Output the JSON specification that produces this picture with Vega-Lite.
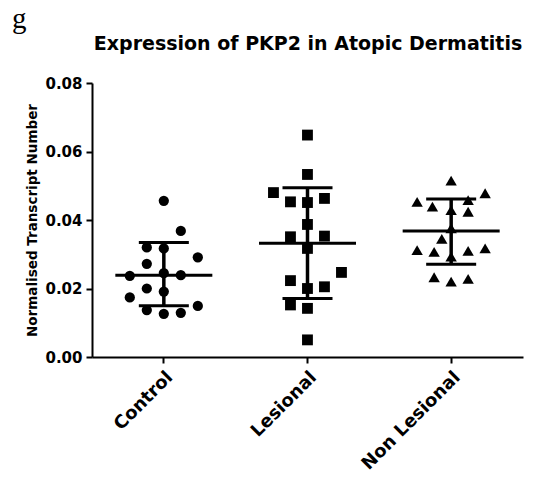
{
  "$schema": "https://vega.github.io/schema/vega-lite/v6.json",
  "width": 431,
  "height": 274,
  "autosize": {"type": "none"},
  "padding": {"left": 92, "top": 83, "right": 17, "bottom": 124},
  "background": "white",
  "title": {"text": "g", "anchor": "start", "frame": "group", "dx": -80, "font": "Liberation Serif", "fontSize": 29, "fontWeight": "normal", "color": "black", "offset": 0},
  "config": {
    "view": {"stroke": null},
    "axis": {"domainColor": "black", "domainWidth": 2, "tickColor": "black", "tickWidth": 2, "labelColor": "black", "titleColor": "black", "grid": false}
  },
  "datasets": {
    "points": [
      {"group": "Control", "col": 0, "value": 0.0456},
      {"group": "Control", "col": 1, "value": 0.0368},
      {"group": "Control", "col": -1, "value": 0.0320},
      {"group": "Control", "col": 0, "value": 0.0317},
      {"group": "Control", "col": 2, "value": 0.0291},
      {"group": "Control", "col": -1, "value": 0.0272},
      {"group": "Control", "col": -2, "value": 0.0237},
      {"group": "Control", "col": 0, "value": 0.0245},
      {"group": "Control", "col": 1, "value": 0.0239},
      {"group": "Control", "col": -1, "value": 0.0200},
      {"group": "Control", "col": 0, "value": 0.0191},
      {"group": "Control", "col": -2, "value": 0.0174},
      {"group": "Control", "col": 2, "value": 0.0149},
      {"group": "Control", "col": -1, "value": 0.0137},
      {"group": "Control", "col": 0, "value": 0.0126},
      {"group": "Control", "col": 1, "value": 0.0129},
      {"group": "Lesional", "col": 0, "value": 0.0648},
      {"group": "Lesional", "col": 0, "value": 0.0533},
      {"group": "Lesional", "col": -2, "value": 0.0480},
      {"group": "Lesional", "col": -1, "value": 0.0453},
      {"group": "Lesional", "col": 0, "value": 0.0451},
      {"group": "Lesional", "col": 1, "value": 0.0463},
      {"group": "Lesional", "col": 0, "value": 0.0387},
      {"group": "Lesional", "col": -1, "value": 0.0351},
      {"group": "Lesional", "col": 1, "value": 0.0353},
      {"group": "Lesional", "col": 0, "value": 0.0317},
      {"group": "Lesional", "col": 2, "value": 0.0247},
      {"group": "Lesional", "col": -1, "value": 0.0223},
      {"group": "Lesional", "col": 0, "value": 0.0200},
      {"group": "Lesional", "col": 1, "value": 0.0205},
      {"group": "Lesional", "col": -1, "value": 0.0152},
      {"group": "Lesional", "col": 0, "value": 0.0142},
      {"group": "Lesional", "col": 0, "value": 0.0050},
      {"group": "Non Lesional", "col": 0, "value": 0.0515},
      {"group": "Non Lesional", "col": -2, "value": 0.0453},
      {"group": "Non Lesional", "col": -1.1, "value": 0.0439},
      {"group": "Non Lesional", "col": 0, "value": 0.0429},
      {"group": "Non Lesional", "col": 1, "value": 0.0458},
      {"group": "Non Lesional", "col": 1, "value": 0.0424},
      {"group": "Non Lesional", "col": 2, "value": 0.0478},
      {"group": "Non Lesional", "col": 0, "value": 0.0376},
      {"group": "Non Lesional", "col": -0.55, "value": 0.0345},
      {"group": "Non Lesional", "col": -2, "value": 0.0312},
      {"group": "Non Lesional", "col": -1, "value": 0.0307},
      {"group": "Non Lesional", "col": 1, "value": 0.0310},
      {"group": "Non Lesional", "col": 2, "value": 0.0317},
      {"group": "Non Lesional", "col": 0, "value": 0.0293},
      {"group": "Non Lesional", "col": -1, "value": 0.0233},
      {"group": "Non Lesional", "col": 0, "value": 0.0220},
      {"group": "Non Lesional", "col": 1, "value": 0.0228}
    ],
    "summary": [
      {"group": "Control", "mean": 0.0239, "lower": 0.0150, "upper": 0.0334},
      {"group": "Lesional", "mean": 0.0332, "lower": 0.0171, "upper": 0.0494},
      {"group": "Non Lesional", "mean": 0.0368, "lower": 0.0271, "upper": 0.0461}
    ]
  },
  "layer": [
    {
      "data": {"name": "points"},
      "mark": {"type": "point", "filled": true, "opacity": 1, "color": "black"},
      "encoding": {
        "x": {
          "field": "group", "type": "nominal",
          "sort": ["Control", "Lesional", "Non Lesional"],
          "scale": {"domain": ["Control", "Lesional", "Non Lesional"], "paddingInner": 0, "paddingOuter": 0},
          "axis": {"orient": "bottom", "title": null, "labelAngle": -45, "labelAlign": "right", "labelBaseline": "top", "labelFont": "DejaVu Sans", "labelFontWeight": "bold", "labelFontSize": 18, "labelPadding": 5, "tickSize": 6}
        },
        "xOffset": {"field": "col", "type": "quantitative", "scale": {"domain": [-2, 2], "range": [37.8, 105.8]}},
        "y": {
          "field": "value", "type": "quantitative",
          "scale": {"domain": [0, 0.08], "nice": false},
          "axis": {"values": [0, 0.02, 0.04, 0.06, 0.08], "format": ".2f", "labelFont": "DejaVu Sans", "labelFontWeight": "bold", "labelFontSize": 15, "labelPadding": 4, "tickSize": 6, "title": "Normalised Transcript Number", "titleFont": "DejaVu Sans", "titleFontSize": 13.5, "titleFontWeight": "bold", "titlePadding": 5}
        },
        "shape": {"field": "group", "type": "nominal", "scale": {"domain": ["Control", "Lesional", "Non Lesional"], "range": ["circle", "square", "triangle-up"]}, "legend": null},
        "size": {"field": "group", "type": "nominal", "scale": {"domain": ["Control", "Lesional", "Non Lesional"], "range": [105, 130, 120]}, "legend": null}
      }
    },
    {
      "data": {"name": "summary"},
      "mark": {"type": "rule", "color": "black", "strokeWidth": 3.5},
      "encoding": {
        "x": {"field": "group", "type": "nominal", "axis": null},
        "y": {"field": "lower", "type": "quantitative"},
        "y2": {"field": "upper"}
      }
    },
    {
      "data": {"name": "summary"},
      "mark": {"type": "tick", "color": "black", "size": 97, "thickness": 3, "opacity": 1},
      "encoding": {
        "x": {"field": "group", "type": "nominal", "axis": {"orient": "top", "title": "Expression of PKP2 in Atopic Dermatitis", "labels": false, "ticks": false, "domain": false, "titleFont": "DejaVu Sans", "titleFontSize": 19, "titleFontWeight": "bold", "titleY": -34, "titleBaseline": "alphabetic"}},
        "y": {"field": "mean", "type": "quantitative"}
      }
    },
    {
      "data": {"name": "summary"},
      "mark": {"type": "tick", "color": "black", "size": 50, "thickness": 3, "opacity": 1},
      "encoding": {
        "x": {"field": "group", "type": "nominal", "axis": null},
        "y": {"field": "lower", "type": "quantitative"}
      }
    },
    {
      "data": {"name": "summary"},
      "mark": {"type": "tick", "color": "black", "size": 50, "thickness": 3, "opacity": 1},
      "encoding": {
        "x": {"field": "group", "type": "nominal", "axis": null},
        "y": {"field": "upper", "type": "quantitative"}
      }
    }
  ]
}
